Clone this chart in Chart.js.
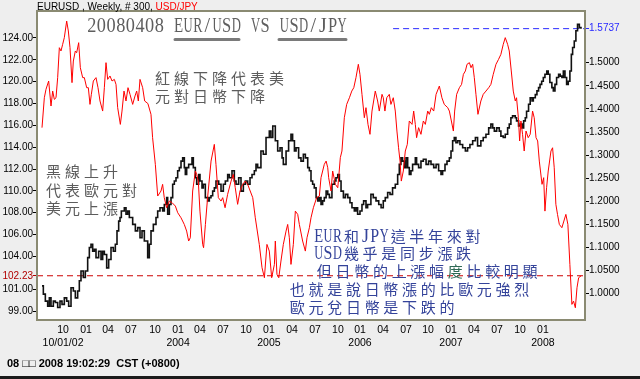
<!DOCTYPE html>
<html>
<head>
<meta charset="utf-8">
<script src="https://cdn.jsdelivr.net/npm/chart.js@4.4.1/dist/chart.umd.min.js"></script>
<style>
  html, body { margin: 0; padding: 0; background: #eeeeee; }
  canvas { display: block; }
</style>
</head>
<body>
<canvas id="myChart" width="640" height="379"></canvas>
<script>
// USD/JPY weekly (red, left axis): week index -> rate
const jpyWeeks = [1.75,3.03,3.94,5.41,6.69,7.61,8.52,9.44,10.35,11.27,12.18,13.1,14.01,15.3,16.21,17.13,18.23,18.96,20.06,20.79,21.89,22.8,24.09,25,26.28,27.2,28.11,28.85,29.94,31.41,32.51,33.61,35.07,35.99,36.9,37.82,39.1,40.2,41.48,42.4,43.31,44.78,45.69,46.79,47.89,48.99,50.09,51.55,52.83,53.75,54.66,55.58,57.04,58.14,
  59.9,61.6,62.5,64,65.3,67.1,68,68.9,70.2,71.7,73.2,75,76.3,78.1,79.9,81.2,82.3,83.2,84.5,86,86.7,87.6,88.5,90,90.5,91.5,92.7,94.6,96.4,97.3,98.6,100.1,101,102.3,103.7,105.6,106.8,107.9,109.2,110.5,112,113.4,114.7,117.5,118.9,
  121.1,122.6,123.9,125.3,126.6,127.9,129.4,129.9,130.8,131.8,133,134.3,135.8,136.7,137.6,138.5,139.8,140.9,142.2,143.1,144.9,146.4,147.3,148.6,149.5,150.8,152.6,154.1,155,155.9,156.8,157.8,158.7,159.2,160.5,161.4,162.9,164.2,164.7,165.6,166.5,167.8,169.1,170.6,171.9,173,174.2,175.5,176.4,177.5,178.8,179.7,180.8,
  181.9,183,184.8,186.1,187,188.5,189.2,190.1,191.1,192.5,193.4,194.7,195.8,196.7,197.6,198.4,199.1,200.2,201.3,202.4,203.5,205,205.9,206.8,207.5,208.6,209.9,211.2,212.3,213.6,214.5,215.6,216.9,218.2,220,221.4,222.7,224.6,225.5,226.6,227.7,228.4,229.5,231,232.2,233.2,234.3,235.2,236.5,237.4,238.3,239.2,240.1,241.2,
  242.8,244.1,245.6,247.1,248.3,249.6,251.1,252.5,253.8,255.1,256.2,257.5,258.4,259.5,260.6,261.7,262.4,263.4,264.1,264.8,265.7,266.6,267.6,268.8,269.9,271.2,272.1,273.1,274,274.9,276.4,277.3,278,278.9,279.8,281.3,282.2,283.1,284,284.9,285.9,287.3,288.4,289.5,290.6,291.7,292.8,293.7,294.7,295.6,296.5,297.9];
const jpyValues = [115.79,118.53,119.3,120.06,117.77,119.14,118.38,118.53,120.37,123.11,122.81,123.42,124.03,125.55,124.64,123.11,119.91,121.89,122.81,122.65,123.57,121.28,120.37,120.37,119.45,119.45,117.92,118.84,120.06,120.37,119.45,118.23,117.31,119.45,121.74,120.21,120.52,120.06,120.21,119.75,117.62,116.09,117.31,119.14,118.23,119.45,118.84,117.92,118.69,119.14,118.23,120.21,119.45,118.23,
  118.0,117.01,114.87,112.43,109.53,109.99,110.6,109.38,108.46,109.07,108.92,108.61,108,107.54,106.93,106.32,105.41,105.71,109.99,111.82,111.51,110.9,108.15,105.1,104.8,106.93,109.38,112.73,114.26,112.43,109.38,109.07,109.38,108.46,109.68,110.9,111.51,110.29,108.77,109.99,110.6,110.9,110.6,109.38,107.54,
  105.1,102.97,102.05,105.1,104.49,102.05,103.27,105.41,102.36,102.05,103.58,105.1,106.32,106.93,105.71,103.27,105.1,108.15,107.85,106.93,105.41,104.49,105.71,106.63,107.54,108.46,109.38,109.53,111.21,111.82,112.43,112.73,112.12,111.21,109.99,111.82,110.6,110.29,111.21,113.04,113.65,116.7,117.92,118.53,119.14,119.45,120.37,121.59,120.67,118.84,116.7,117.62,116.09,
  115.18,117.31,119.14,118.23,117.31,118.84,118.53,117.31,118.53,118.84,117.92,118.53,117.31,115.48,113.95,112.73,110.9,111.82,113.65,114.26,116.4,116.09,117.31,116.09,114.87,115.79,115.18,116.4,116.09,117.31,117.01,117.62,117.31,118.84,119.6,118.53,117.92,117.62,117.31,116.4,115.48,117.31,118.84,119.45,119.75,120.67,120.98,121.59,121.74,121.28,121.59,120.37,118.84,117.01,
  118.23,118.84,119.14,119.45,119.75,120.67,121.59,122.04,122.5,123.42,124.03,123.42,122.81,120.98,119.14,118.23,118.53,116.7,114.57,116.4,115.18,113.65,115.48,114.87,115.18,117.31,116.7,114.87,114.57,112.73,110.6,111.21,108.15,110.29,111.82,113.65,113.95,112.12,108.77,107.85,106.93,106.63,107.24,107.85,106.93,103.27,99.61,99.91,99.3,101.13,102.05,102.23];

// EUR/USD weekly (black, right axis)
const eurWeeks = [1.75,2.48,3.58,4.86,5.78,6.69,7.97,9.07,10.35,11.63,12.73,14.01,15.3,16.39,17.68,18.96,20.06,21.34,22.25,23.17,24.45,25.55,26.83,27.75,28.66,29.58,30.5,31.41,32.87,34.16,35.07,35.99,37.27,38.37,39.65,40.93,42.03,42.94,43.86,44.59,45.33,46.06,46.97,47.89,48.81,49.72,50.64,51.55,53.02,54.3,55.58,56.68,57.96,
  59.79,60.7,61.62,62.9,64.36,65.28,66.56,68.03,68.94,70.22,70.77,71.69,72.6,73.52,74.43,75.35,76.26,77.18,78.1,79.01,79.93,80.48,81.21,82.31,83.04,84.14,84.87,85.97,86.7,87.8,88.53,89.63,90.36,91.46,92.74,93.66,94.57,95.49,96.41,97.32,98.79,100.07,101.35,102.45,103.73,104.65,106.11,107.39,108.31,109.77,111.05,112.34,113.43,114.72,116,117.1,118.38,119.29,
  120.2,122,123.3,124.8,126.6,127.5,128.5,129.9,131.2,132.5,133.6,134.3,135.8,137.2,138.5,139.4,140.4,141.3,142.7,144,145.3,146.4,147.7,148.6,149.5,150.4,151.3,152.3,153.2,154.1,155,155.9,156.8,157.8,158.7,159.6,161,162.3,163.2,164.2,165.1,166,167.3,168.4,169.7,170.9,172,173.3,174.2,175.1,176.4,177.5,178.4,179.7,
  180.6,182.4,183.7,185.2,186.7,188,189.2,190.3,191.6,192.9,194.3,195.8,197.1,198,198.9,199.8,200.8,201.7,202.6,203.5,204.4,205.3,206.8,207.5,208.6,209.9,211.2,212.7,214.1,215.4,216.9,218.2,219.6,220.9,221.8,223.1,224.2,225.5,226.4,227.3,228.2,229.1,230.1,231.3,232.8,234.3,235.5,236.8,238.3,239.8,
  241,242.8,244.1,245.6,247.1,248.3,249.3,250.2,251.5,252.9,253.8,255.1,256.2,257.5,258.4,259.3,260.2,261.7,262.4,263.5,264.5,265.4,266.3,267.2,267.9,269,269.9,270.9,271.6,272.7,273.6,274.5,275.3,276.2,277.1,278,279,279.8,280.7,281.8,282.6,283.5,284.4,285.5,286.4,287.3,288.1,289,289.9,290.8,291.7,292.5,293.2,294.1,295,295.9,296.9,297.8];
const eurValues = [1.017,0.999,0.984,0.973,0.991,0.973,0.984,0.981,0.970,0.984,0.977,0.991,0.984,0.973,1.013,1.006,0.991,1.006,1.028,1.049,1.035,1.049,1.078,1.100,1.107,1.092,1.096,1.078,1.092,1.074,1.092,1.085,1.056,1.074,1.100,1.092,1.107,1.136,1.157,1.165,1.179,1.179,1.186,1.172,1.179,1.165,1.165,1.150,1.136,1.143,1.121,1.136,1.114,
  1.078,1.107,1.136,1.150,1.165,1.179,1.186,1.179,1.193,1.208,1.172,1.193,1.208,1.237,1.244,1.251,1.266,1.273,1.287,1.294,1.273,1.258,1.273,1.280,1.280,1.294,1.273,1.251,1.237,1.258,1.244,1.229,1.237,1.208,1.201,1.208,1.212,1.222,1.229,1.244,1.237,1.222,1.237,1.244,1.258,1.251,1.266,1.244,1.237,1.251,1.222,1.237,1.244,1.237,1.251,1.258,1.266,1.280,
  1.273,1.309,1.302,1.338,1.352,1.338,1.363,1.331,1.309,1.316,1.294,1.280,1.309,1.331,1.345,1.331,1.309,1.316,1.294,1.287,1.302,1.294,1.273,1.266,1.244,1.237,1.229,1.208,1.201,1.208,1.193,1.201,1.208,1.222,1.215,1.208,1.237,1.244,1.251,1.258,1.244,1.222,1.208,1.215,1.208,1.197,1.186,1.179,1.186,1.172,1.179,1.193,1.201,1.186,
  1.193,1.215,1.208,1.201,1.193,1.186,1.201,1.208,1.219,1.215,1.229,1.237,1.258,1.280,1.294,1.287,1.273,1.294,1.273,1.258,1.266,1.280,1.294,1.280,1.273,1.287,1.291,1.280,1.287,1.280,1.273,1.280,1.266,1.258,1.266,1.280,1.287,1.294,1.309,1.331,1.338,1.327,1.331,1.323,1.316,1.309,1.316,1.323,1.331,1.338,
  1.320,1.331,1.338,1.345,1.359,1.367,1.359,1.352,1.359,1.352,1.341,1.338,1.345,1.359,1.367,1.381,1.385,1.381,1.374,1.363,1.367,1.359,1.374,1.381,1.395,1.410,1.424,1.417,1.424,1.431,1.439,1.446,1.453,1.460,1.468,1.475,1.482,1.475,1.457,1.446,1.439,1.453,1.468,1.475,1.471,1.468,1.482,1.468,1.453,1.460,1.482,1.518,1.533,1.547,1.569,1.583,1.576,1.5737];

// last quotes and where the blue marker line begins
const lastJPY = 102.23;
const lastEUR = 1.5737;
const eurMarkFrom = 194.6;

// quarter ticks along the bottom
const tickWeeks = [13.3,25.9,38.0,50.6,63.8,76.5,88.5,101.2,113.8,126.4,139.1,151.7,164.3,176.4,189.1,201.7,213.8,226.4,239.0,251.7,264.3,276.9];
const tickMonths = ["10","01","04","07","10","01","04","07","10","01","04","07","10","01","04","07","10","01","04","07","10","01"];
const tickYears = ["10/01/02","","","","","2004","","","","2005","","","","2006","","","","2007","","","","2008"];

const jpyTicks = [99,101,102.23,104,106,108,110,112,114,116,118,120,122,124];
const eurTicks = [1.00,1.05,1.10,1.15,1.20,1.25,1.30,1.35,1.40,1.45,1.50,1.5737];

const toPoints = (xs, ys) => xs.map((x, i) => ({ x: x, y: ys[i] }));

// draw text in fixed cells, half width for latin, full for CJK
function drawCells(ctx, text, x, y, cell, latinFont, cjkFont, color, special) {
  let cx = x;
  ctx.textBaseline = "alphabetic";
  ctx.textAlign = "center";
  for (let i = 0; i < text.length; i++) {
    const ch = text[i];
    const wide = ch.charCodeAt(0) > 0x2e80;
    const w = wide ? cell : cell / 2;
    ctx.font = wide ? cjkFont : latinFont;
    ctx.fillStyle = (special && special[i]) || color;
    const m = ctx.measureText(ch).width;
    const sx = m > w * 0.95 ? (w * 0.95) / m : 1;
    ctx.save();
    ctx.translate(cx + w / 2, y);
    ctx.scale(sx, 1);
    ctx.fillText(ch, 0, 0);
    ctx.restore();
    cx += w;
  }
}

const decor = {
  id: "decor",
  beforeDraw(chart) {
    const { ctx, chartArea: a } = chart;
    ctx.save();
    ctx.fillStyle = "#eeeeee";
    ctx.fillRect(0, 0, chart.width, chart.height);
    ctx.fillStyle = "#ffffff";
    ctx.fillRect(a.left, a.top, a.right - a.left, a.bottom - a.top);
    ctx.restore();
  },
  afterDraw(chart) {
    const { ctx, chartArea: a } = chart;
    ctx.save();
    // frame
    ctx.strokeStyle = "#8a8a72";
    ctx.lineWidth = 2;
    ctx.strokeRect(a.left, a.top, a.right - a.left, a.bottom - a.top);

    // header
    ctx.textBaseline = "alphabetic";
    ctx.textAlign = "left";
    ctx.font = "10px 'Liberation Sans'";
    ctx.fillStyle = "#000";
    const head = "EURUSD , Weekly, # 300, ";
    ctx.fillText(head, 37, 10);
    ctx.fillStyle = "#ff0000";
    ctx.fillText("USD/JPY", 37 + ctx.measureText(head).width, 10);

    // title
    drawCells(ctx, "20080408 EUR/USD VS USD/JPY", 87, 32, 19.26, "20px 'Liberation Serif'", "20px 'Liberation Serif'", "#5e5e5e");
    ctx.strokeStyle = "#7a7a7a";
    ctx.lineWidth = 3;
    ctx.lineCap = "round";
    ctx.beginPath();
    ctx.moveTo(175, 39.5); ctx.lineTo(239, 39.5);
    ctx.moveTo(279, 39.5); ctx.lineTo(346, 39.5);
    ctx.stroke();

    const cjk = "15px 'Noto Sans CJK TC'";
    const lat = "18px 'Liberation Serif'";
    // gray notes
    const gray = "#5c5c5c";
    drawCells(ctx, "紅線下降代表美", 153, 83.5, 19, lat, cjk, gray);
    drawCells(ctx, "元對日幣下降", 153, 102, 19, lat, cjk, gray);
    drawCells(ctx, "黑線上升", 44, 176.5, 19, lat, cjk, gray);
    drawCells(ctx, "代表歐元對", 44, 195.5, 19, lat, cjk, gray);
    drawCells(ctx, "美元上漲", 44, 214, 19, lat, cjk, gray);

    // blue notes
    const blue = "#34439a";
    drawCells(ctx, "EUR和JPY這半年來對", 314, 241.5, 18.7, lat, cjk, blue);
    drawCells(ctx, "USD幾乎是同步漲跌", 314, 259, 18.7, lat, cjk, blue);
    drawCells(ctx, "但日幣的上漲幅度比較明顯", 315, 277, 18.7, lat, cjk, blue, { 7: "#2f6a55" });
    drawCells(ctx, "也就是說日幣漲的比歐元強烈", 288, 295, 18.7, lat, cjk, blue);
    drawCells(ctx, "歐元兌日幣是下跌的", 288, 312.5, 18.7, lat, cjk, blue);

    // footer
    ctx.textAlign = "left";
    ctx.fillStyle = "#000";
    ctx.font = "bold 11px 'Liberation Sans'";
    ctx.fillText("08 \u25a1\u25a1 2008 19:02:29  CST (+0800)", 7, 367);
    ctx.fillStyle = "#1a1a1a";
    ctx.fillRect(0, 376, chart.width, 3);
    ctx.restore();
  }
};

const ctx = document.getElementById("myChart").getContext("2d");
new Chart(ctx, {
  type: "line",
  data: {
    datasets: [
      {
        data: toPoints(jpyWeeks, jpyValues),
        yAxisID: "y",
        borderColor: "#ff0000",
        borderWidth: 1,
        pointRadius: 0,
        tension: 0,
      },
      {
        data: toPoints(eurWeeks, eurValues),
        yAxisID: "y1",
        borderColor: "#111111",
        borderWidth: 1.6,
        pointRadius: 0,
        stepped: true,
      },
      {
        data: [{ x: -1, y: lastJPY }, { x: 300, y: lastJPY }],
        yAxisID: "y",
        borderColor: "#cc0000",
        borderWidth: 1,
        borderDash: [6, 4],
        pointRadius: 0,
      },
      {
        data: [{ x: eurMarkFrom, y: lastEUR }, { x: 300, y: lastEUR }],
        yAxisID: "y1",
        borderColor: "#2a2aff",
        borderWidth: 1,
        borderDash: [6, 4],
        pointRadius: 0,
      },
    ],
  },
  options: {
    responsive: false,
    animation: false,
    devicePixelRatio: 1,
    layout: { padding: { top: 11, left: 0, right: 0, bottom: 0 } },
    plugins: { legend: { display: false }, tooltip: { enabled: false } },
    scales: {
      x: {
        type: "linear",
        min: -1,
        max: 300,
        afterBuildTicks: (s) => { s.ticks = tickWeeks.map((v) => ({ value: v })); },
        afterFit: (s) => { s.height = 59; },
        grid: { display: false, drawTicks: false },
        border: { display: false },
        ticks: {
          autoSkip: false,
          maxRotation: 0,
          padding: 3,
          color: "#000",
          font: { family: "Liberation Sans", size: 10.5, lineHeight: 1.3 },
          callback: (v, i) => (tickYears[i] ? [tickMonths[i], tickYears[i]] : tickMonths[i]),
        },
      },
      y: {
        position: "left",
        min: 98.18,
        max: 126.47,
        afterBuildTicks: (s) => { s.ticks = jpyTicks.map((v) => ({ value: v })); },
        afterFit: (s) => { s.width = 37; },
        grid: {
          drawOnChartArea: false,
          tickLength: 4,
          tickColor: (c) => (c.tick && c.tick.value === lastJPY ? "#b00000" : "#000"),
        },
        border: { display: false },
        ticks: {
          padding: 0,
          font: { family: "Liberation Sans", size: 10 },
          color: (c) => (c.tick && c.tick.value === lastJPY ? "#b00000" : "#000"),
          callback: (v) => v.toFixed(2),
        },
      },
      y1: {
        position: "right",
        min: 0.9431,
        max: 1.6119,
        afterBuildTicks: (s) => { s.ticks = eurTicks.map((v) => ({ value: v })); },
        afterFit: (s) => { s.width = 55; },
        grid: {
          drawOnChartArea: false,
          tickLength: 4,
          tickColor: (c) => (c.tick && c.tick.value === lastEUR ? "#2a2aff" : "#000"),
        },
        border: { display: false },
        ticks: {
          padding: 0,
          font: { family: "Liberation Sans", size: 10 },
          color: (c) => (c.tick && c.tick.value === lastEUR ? "#2a2aff" : "#000"),
          callback: (v) => v.toFixed(4),
        },
      },
    },
  },
  plugins: [decor],
});
</script>
</body>
</html>
